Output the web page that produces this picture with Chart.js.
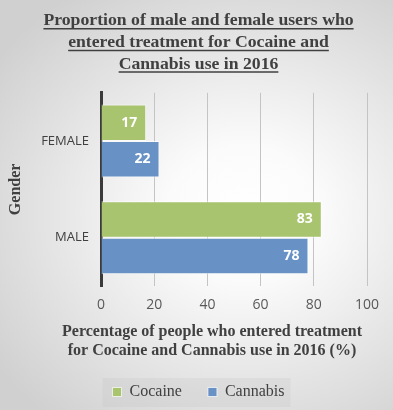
<!DOCTYPE html>
<html>
<head>
<meta charset="utf-8">
<script src="https://cdn.jsdelivr.net/npm/chart.js@4"></script>
<style>
  html, body { margin: 0; padding: 0; }
  body {
    width: 393px; height: 410px; overflow: hidden;
    background: radial-gradient(ellipse at 62% 52%, #ffffff 0%, #fbfbfb 22%, #d0d0d0 88%);
  }
  #wrap { position: relative; width: 393px; height: 410px; }
</style>
</head>
<body>
<div id="wrap"><canvas id="chart"></canvas></div>
<script>
const genders = ['FEMALE', 'MALE'];
const cocaine = [17, 83];
const cannabis = [22, 78];
const titleLines = ['Proportion of male and female users who', 'entered treatment for Cocaine and', 'Cannabis use in 2016'];
const xTitleLines = ['Percentage of people who entered treatment', 'for Cocaine and Cannabis use in 2016 (%)'];
const yTitle = 'Gender';

const textColor = '#404040';
const serif = '"Liberation Serif", "Times New Roman", serif';
const sans = '"Open Sans", "Noto Sans", sans-serif';
const titleSize = 17.7;
const titleLH = 1.22;

// underline each title line, like the original
const titleUnderline = {
  id: 'titleUnderline',
  afterDraw(chart) {
    const t = chart.titleBlock;
    if (!t) return;
    const ctx = chart.ctx;
    const lh = titleSize * titleLH;
    ctx.save();
    ctx.font = 'bold ' + titleSize + 'px ' + serif;
    ctx.strokeStyle = textColor;
    ctx.lineWidth = 1.5;
    const cx = (t.left + t.right) / 2;
    titleLines.forEach((line, i) => {
      const w = ctx.measureText(line).width;
      const y = t.top + 10 + lh * (i + 0.5) + 8;
      ctx.beginPath();
      ctx.moveTo(cx - w / 2, y);
      ctx.lineTo(cx + w / 2, y);
      ctx.stroke();
    });
    ctx.restore();
  }
};

// x axis title is off-centre in the original, so draw it here
const xAxisTitle = {
  id: 'xAxisTitle',
  afterDraw(chart) {
    const ctx = chart.ctx;
    ctx.save();
    ctx.font = 'bold 16px ' + serif;
    ctx.fillStyle = textColor;
    ctx.textAlign = 'center';
    ctx.textBaseline = 'middle';
    xTitleLines.forEach((line, i) => ctx.fillText(line, 212, 332 + i * 19));
    ctx.restore();
  }
};

// value labels inside the bar ends
const barLabels = {
  id: 'barLabels',
  afterDatasetsDraw(chart) {
    const ctx = chart.ctx;
    ctx.save();
    ctx.font = 'bold 14px ' + sans;
    ctx.fillStyle = '#ffffff';
    ctx.textAlign = 'right';
    ctx.textBaseline = 'middle';
    chart.data.datasets.forEach((ds, di) => {
      chart.getDatasetMeta(di).data.forEach((bar, i) => {
        ctx.fillText(String(ds.data[i]), bar.x - 9, bar.y);
      });
    });
    ctx.restore();
  }
};

// light box behind the legend
const legendBox = {
  id: 'legendBox',
  beforeDraw(chart) {
    const lg = chart.legend;
    if (!lg || !lg.legendHitBoxes || !lg.legendHitBoxes.length) return;
    const hb = lg.legendHitBoxes;
    const left = Math.min(...hb.map(h => h.left)) - 10;
    const right = Math.max(...hb.map(h => h.left + h.width)) + 6;
    const ctx = chart.ctx;
    ctx.save();
    ctx.fillStyle = 'rgba(190,190,190,0.22)';
    ctx.fillRect(left, 378, right - left, 29);
    ctx.restore();
  }
};

new Chart(document.getElementById('chart'), {
  type: 'bar',
  data: {
    labels: genders,
    datasets: [{
      label: 'Cocaine',
      data: cocaine,
      backgroundColor: '#a9c46f',
      borderColor: 'rgba(255,255,255,0.7)',
      borderWidth: 1
    }, {
      label: 'Cannabis',
      data: cannabis,
      backgroundColor: '#6892c6',
      borderColor: 'rgba(255,255,255,0.7)',
      borderWidth: 1
    }]
  },
  options: {
    indexAxis: 'y',
    responsive: true,
    maintainAspectRatio: false,
    animation: false,
    categoryPercentage: 0.755,
    barPercentage: 1,
    layout: {
      padding: { left: 4, right: 0, top: 0, bottom: 0 }
    },
    plugins: {
      title: {
        display: true,
        text: titleLines,
        color: textColor,
        font: { family: serif, size: titleSize, weight: 'bold', lineHeight: titleLH },
        padding: { top: 10, bottom: 18 }
      },
      legend: {
        position: 'bottom',
        labels: {
          color: textColor,
          font: { family: serif, size: 16 },
          boxWidth: 9,
          boxHeight: 9,
          padding: 26
        }
      },
      tooltip: { enabled: false }
    },
    scales: {
      x: {
        min: 0,
        max: 100,
        afterFit: (scale) => { scale.height = 72; },
        ticks: {
          stepSize: 20,
          color: '#595959',
          font: { family: sans, size: 14 },
          padding: 11
        },
        grid: {
          color: '#c4c4c4',
          lineWidth: 1,
          drawTicks: false
        },
        border: { display: false }
      },
      y: {
        afterFit: (scale) => { scale.width = 97; },
        ticks: {
          color: textColor,
          font: { family: sans, size: 13 },
          padding: 12
        },
        grid: { display: false, drawTicks: false },
        border: { display: true, color: '#3a3a3a', width: 3 },
        title: {
          display: true,
          text: yTitle,
          color: textColor,
          font: { family: serif, size: 16, weight: 'bold' },
          padding: { top: 2, bottom: 4 }
        }
      },
      // empty space on the right of the plot, as in the original
      rightPad: {
        type: 'linear',
        position: 'right',
        afterFit: (scale) => { scale.width = 26; },
        ticks: { display: false },
        grid: { display: false, drawTicks: false },
        border: { display: false }
      }
    }
  },
  plugins: [titleUnderline, xAxisTitle, barLabels, legendBox]
});
</script>
</body>
</html>
